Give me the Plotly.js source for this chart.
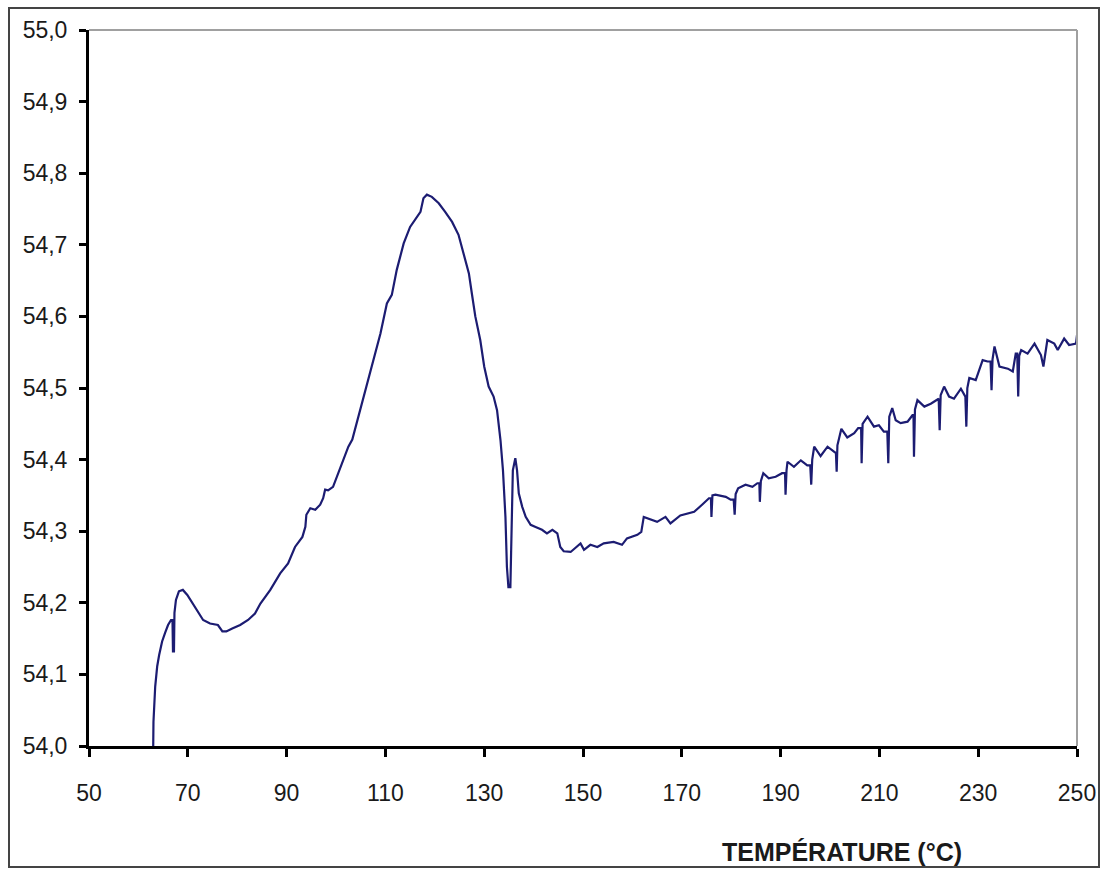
<!DOCTYPE html>
<html>
<head>
<meta charset="utf-8">
<script src="https://cdn.plot.ly/plotly-3.0.1.min.js"></script>
<style>html,body{margin:0;padding:0;background:#fff;}#chart{width:1104px;height:871px;}</style>
</head>
<body>
<div id="chart"></div>
<script>
// Temperature (°C)
const temperature = [
63.0,63.05,63.4,63.8,64.2,64.8,65.4,66.0,66.6,66.9,67.0,67.2,67.3,67.6,68.2,69.0,69.9,70.9,71.9,73.1,
74.5,76.1,77.0,77.8,79.0,80.6,82.2,83.6,84.7,86.7,88.7,90.3,91.7,93.2,93.8,94.0,94.8,95.8,96.8,97.4,
97.8,98.4,99.4,100.5,101.5,102.5,103.3,104.9,106.9,109.0,110.3,111.3,112.3,113.7,115.0,116.1,117.1,117.7,118.4,119.4,
120.8,122.1,123.5,124.8,125.8,126.9,127.5,128.2,129.2,130.0,130.9,131.9,132.6,133.3,133.8,134.3,134.6,134.9,135.3,135.45,
135.8,136.3,136.65,137.0,137.7,138.4,139.4,140.4,141.7,142.7,143.8,144.8,145.4,146.1,147.5,149.5,150.2,151.5,152.9,154.2,
156.2,157.9,158.9,161.0,161.8,162.3,163.7,165.0,166.7,167.7,169.7,172.5,174.1,175.5,175.9,176.0,176.2,176.8,178.9,179.9,
180.5,180.7,180.9,181.4,182.9,184.3,185.3,185.7,185.8,186.0,186.5,187.6,189.0,190.3,190.9,191.0,191.2,191.4,192.7,194.1,
195.4,196.0,196.2,196.4,196.8,198.1,199.5,200.8,201.2,201.35,201.5,202.3,203.5,204.9,205.7,206.3,206.4,206.6,207.6,208.9,
209.9,210.9,211.6,211.8,212.0,212.6,213.3,214.3,215.7,216.7,216.9,217.0,217.2,217.7,219.1,220.4,221.8,222.0,222.2,222.4,
223.1,224.1,225.1,226.5,227.4,227.6,227.8,228.2,229.5,230.9,231.9,232.5,232.7,232.9,233.3,234.3,236.0,237.0,237.6,237.9,
238.1,238.3,238.7,240.0,241.4,242.7,243.2,244.0,245.4,246.1,247.4,248.4,249.8,250.0
];
// Measured value
const signal = [
54.000,54.034,54.083,54.111,54.127,54.146,54.158,54.169,54.176,54.176,54.132,54.132,54.186,54.204,54.216,54.218,54.211,54.200,54.188,54.176,
54.171,54.169,54.160,54.160,54.164,54.169,54.176,54.185,54.199,54.218,54.241,54.255,54.278,54.292,54.306,54.323,54.332,54.330,54.337,54.346,
54.358,54.357,54.362,54.381,54.399,54.418,54.428,54.469,54.521,54.576,54.618,54.630,54.665,54.702,54.725,54.737,54.746,54.765,54.770,54.767,
54.758,54.746,54.732,54.714,54.688,54.660,54.632,54.600,54.567,54.530,54.502,54.488,54.469,54.427,54.385,54.320,54.250,54.222,54.222,54.283,
54.385,54.402,54.385,54.353,54.334,54.320,54.309,54.306,54.302,54.297,54.302,54.297,54.278,54.272,54.271,54.283,54.274,54.281,54.278,54.283,
54.285,54.281,54.290,54.295,54.299,54.320,54.316,54.313,54.320,54.311,54.322,54.327,54.337,54.346,54.346,54.320,54.350,54.351,54.348,54.344,
54.344,54.323,54.352,54.360,54.365,54.362,54.367,54.367,54.341,54.370,54.381,54.374,54.376,54.381,54.381,54.351,54.385,54.397,54.390,54.399,
54.392,54.392,54.365,54.400,54.418,54.405,54.418,54.412,54.409,54.383,54.420,54.443,54.431,54.437,54.444,54.444,54.395,54.450,54.460,54.446,
54.448,54.439,54.439,54.395,54.460,54.472,54.455,54.451,54.453,54.462,54.462,54.404,54.470,54.483,54.474,54.478,54.485,54.485,54.441,54.490,
54.502,54.488,54.485,54.499,54.488,54.446,54.500,54.514,54.511,54.539,54.537,54.537,54.497,54.540,54.558,54.530,54.527,54.523,54.548,54.548,
54.488,54.545,54.553,54.548,54.562,54.546,54.530,54.567,54.562,54.553,54.569,54.560,54.562,54.574
];
const xTickValues = [50,70,90,110,130,150,170,190,210,230,250];
const yTickValues = [54.0,54.1,54.2,54.3,54.4,54.5,54.6,54.7,54.8,54.9,55.0];
const xAxisTitle = "TEMPÉRATURE (°C)";

const font = "Liberation Sans, Arial, Helvetica, sans-serif";

const trace = {
  x: temperature, y: signal, type: 'scatter', mode: 'lines',
  line: {color: '#1c1c72', width: 2.2}, hoverinfo: 'skip'
};

const layout = {
  width: 1104, height: 871,
  margin: {l: 89, r: 27, t: 30, b: 125},
  paper_bgcolor: '#ffffff', plot_bgcolor: '#ffffff',
  separators: ',.',
  showlegend: false,
  font: {family: font, color: '#1a1a1a'},
  xaxis: {
    range: [50, 250], tickmode: 'array', tickvals: xTickValues,
    ticktext: xTickValues.map(String),
    showgrid: false, zeroline: false,
    showline: true, linecolor: '#000', linewidth: 3,
    ticks: 'outside', ticklen: 8, tickwidth: 3, tickcolor: '#000',
    ticklabelstandoff: 16,
    tickfont: {family: font, size: 23, color: '#1a1a1a'}
  },
  yaxis: {
    range: [54.0, 55.0], tickmode: 'array', tickvals: yTickValues,
    ticktext: yTickValues.map(v => v.toFixed(1).replace('.', ',')),
    showgrid: false, zeroline: false,
    showline: true, linecolor: '#000', linewidth: 3,
    ticks: 'outside', ticklen: 7, tickwidth: 3, tickcolor: '#000',
    ticklabelstandoff: 7,
    tickfont: {family: font, size: 23, color: '#1a1a1a'}
  },
  shapes: [
    {type: 'line', xref: 'paper', yref: 'paper', x0: 0, x1: 1, y0: 1, y1: 1,
     line: {color: '#a0a0a0', width: 2}},
    {type: 'line', xref: 'paper', yref: 'paper', x0: 1, x1: 1, y0: 0, y1: 1,
     line: {color: '#a0a0a0', width: 2}},
    {type: 'rect', xref: 'paper', yref: 'paper',
     x0: (9 - 89) / 988, x1: (1099 - 89) / 988,
     y0: (746 - 867) / 716, y1: (746 - 8) / 716,
     line: {color: '#444', width: 2}, fillcolor: 'rgba(0,0,0,0)'}
  ],
  annotations: [
    {text: '<b>' + xAxisTitle + '</b>', xref: 'paper', yref: 'paper',
     x: (842 - 89) / 988, y: (746 - 852) / 716, xanchor: 'center', yanchor: 'middle',
     showarrow: false, font: {family: font, size: 25, color: '#1a1a1a'}}
  ]
};

Plotly.newPlot('chart', [trace], layout, {staticPlot: true, displayModeBar: false});
</script>
</body>
</html>
